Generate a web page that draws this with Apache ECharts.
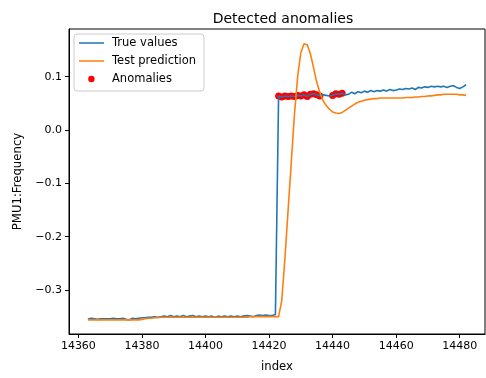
<!DOCTYPE html>
<html>
<head>
<meta charset="utf-8">
<script src="https://cdn.jsdelivr.net/npm/echarts@6/dist/echarts.min.js"></script>
<style>
html,body{margin:0;padding:0;background:#fff;}
#chart{width:486px;height:378px;}
</style>
</head>
<body>
<div id="chart"></div>
<script>
// ---- data ----
const indexValues = [
14363,14364,14365,14366,14367,14368,14369,14370,14371,14372,14373,14374,14375,14376,14377,14378,14379,14380,
14381,14382,14383,14384,14385,14386,14387,14388,14389,14390,14391,14392,14393,14394,14395,14396,14397,14398,
14399,14400,14401,14402,14403,14404,14405,14406,14407,14408,14409,14410,14411,14412,14413,14414,14415,14416,
14417,14418,14419,14420,14421,14422,14423,14424,14425,14426,14427,14428,14429,14430,14431,14432,14433,14434,
14435,14436,14437,14438,14439,14440,14441,14442,14443,14444,14445,14446,14447,14448,14449,14450,14451,14452,
14453,14454,14455,14456,14457,14458,14459,14460,14461,14462,14463,14464,14465,14466,14467,14468,14469,14470,
14471,14472,14473,14474,14475,14476,14477,14478,14479,14480,14481,14482
];
const trueValues = [
-0.355,-0.353,-0.354,-0.355,-0.354,-0.354,-0.354,-0.354,-0.353,-0.354,-0.354,-0.353,-0.355,-0.356,-0.353,-0.354,-0.353,-0.352,
-0.352,-0.351,-0.351,-0.350,-0.351,-0.350,-0.349,-0.350,-0.348,-0.350,-0.349,-0.350,-0.348,-0.350,-0.349,-0.348,-0.350,-0.349,
-0.350,-0.349,-0.350,-0.349,-0.351,-0.349,-0.350,-0.349,-0.350,-0.349,-0.350,-0.349,-0.350,-0.349,-0.348,-0.349,-0.350,-0.348,
-0.347,-0.348,-0.347,-0.348,-0.348,-0.346,
0.064,0.062,0.064,0.063,0.064,0.063,0.065,0.064,0.066,0.063,0.067,0.068,
0.066,0.064,0.066,0.065,0.064,0.065,0.068,0.067,0.069,0.066,0.067,0.071,0.068,0.072,0.070,0.073,0.071,0.074,
0.072,0.074,0.073,0.075,0.073,0.076,0.074,0.075,0.077,0.076,0.078,0.077,0.079,0.076,0.080,0.079,0.081,0.080,
0.082,0.081,0.082,0.081,0.082,0.080,0.082,0.083,0.080,0.078,0.081,0.085
];
const predictedValues = [
-0.356,-0.356,-0.356,-0.356,-0.356,-0.356,-0.356,-0.356,-0.356,-0.356,-0.356,-0.356,-0.356,-0.356,-0.356,-0.356,-0.356,-0.355,
-0.354,-0.353,-0.353,-0.352,-0.352,-0.351,-0.351,-0.351,-0.351,-0.351,-0.351,-0.351,-0.351,-0.351,-0.351,-0.351,-0.351,-0.351,
-0.351,-0.351,-0.351,-0.351,-0.351,-0.351,-0.351,-0.351,-0.351,-0.351,-0.351,-0.351,-0.351,-0.351,-0.351,-0.350,-0.350,-0.350,
-0.350,-0.350,-0.350,-0.350,-0.350,-0.350,
-0.350,-0.32,-0.24,-0.15,-0.06,0.030,0.100,0.145,0.162,0.160,0.143,0.117,
0.090,0.070,0.055,0.046,0.039,0.034,0.032,0.031,0.033,0.037,0.041,0.045,0.049,0.052,0.054,0.056,0.057,0.058,
0.059,0.059,0.060,0.060,0.060,0.060,0.060,0.060,0.060,0.060,0.061,0.061,0.061,0.062,0.062,0.063,0.063,0.064,
0.064,0.065,0.066,0.066,0.067,0.067,0.067,0.067,0.067,0.066,0.066,0.065
];
const anomalyIndex = [14423,14424,14425,14426,14427,14428,14429,14430,14431,14432,14433,14434,14435,14436,14440,14441,14442,14443];
const xTicks = [14360,14380,14400,14420,14440,14460,14480];
const yTicks = [-0.3,-0.2,-0.1,0.0,0.1];

// ---- build ----
const truePairs = indexValues.map((x,i)=>[x,trueValues[i]]);
const predPairs = indexValues.map((x,i)=>[x,predictedValues[i]]);
const anomalyPairs = anomalyIndex.map(x=>[x,trueValues[indexValues.indexOf(x)]]);

const FONT = 'DejaVu Sans';
const lineIcon = 'path://M0,5.2 L25,5.2 L25,6.8 L0,6.8 Z M0,0 L0.01,0 L0,0.01 Z M28,12 L27.99,12 L28,11.99 Z';
const dotIcon = 'path://M9.2,6 A3.2,3.2 0 1,1 15.6,6 A3.2,3.2 0 1,1 9.2,6 Z M0,0 L0.01,0 L0,0.01 Z M28,12 L27.99,12 L28,11.99 Z';

const chart = echarts.init(document.getElementById('chart'), null, {renderer:'canvas'});
chart.setOption({
  animation:false,
  backgroundColor:'#ffffff',
  title:{
    text:'Detected anomalies', left:278, top:7, textAlign:'center',
    textStyle:{fontFamily:FONT, fontSize:14, fontWeight:'normal', color:'#000'}
  },
  grid:{left:69, right:1, top:29, bottom:37, show:true, borderColor:'#000', borderWidth:1, backgroundColor:'transparent', containLabel:false},
  legend:{
    orient:'vertical', left:74, top:34,
    padding:[3,8,6,5], itemGap:6, itemWidth:28, itemHeight:12,
    backgroundColor:'rgba(255,255,255,0.8)', borderColor:'#cccccc', borderWidth:1, borderRadius:3,
    textStyle:{fontFamily:FONT, fontSize:11.5, color:'#000'},
    itemStyle:{borderWidth:0},
    data:[
      {name:'True values', icon:lineIcon, itemStyle:{color:'#1f77b4', borderWidth:0}},
      {name:'Test prediction', icon:lineIcon, itemStyle:{color:'#ff7f0e', borderWidth:0}},
      {name:'Anomalies', icon:dotIcon, itemStyle:{color:'#ff0000', borderWidth:0}}
    ]
  },
  xAxis:{
    type:'value', min:14357.05, max:14487.95,
    name:'index', nameLocation:'middle', nameGap:27,
    nameTextStyle:{fontFamily:FONT, fontSize:11.7, color:'#000'},
    axisLine:{show:true, onZero:false, lineStyle:{color:'#000', width:1}},
    axisTick:{show:true, inside:false, length:4, customValues:xTicks, lineStyle:{color:'#000', width:1}},
    axisLabel:{show:true, margin:7, customValues:xTicks, fontFamily:FONT, fontSize:11, color:'#000',
      formatter:v=>String(Math.round(v))},
    splitLine:{show:false}
  },
  yAxis:{
    type:'value', min:-0.3825, max:0.1895,
    name:'PMU1:Frequency', nameLocation:'middle', nameGap:40, nameRotate:90,
    nameTextStyle:{fontFamily:FONT, fontSize:11.7, color:'#000'},
    axisLine:{show:true, onZero:false, lineStyle:{color:'#000', width:1}},
    axisTick:{show:true, inside:false, length:4, customValues:yTicks, lineStyle:{color:'#000', width:1}},
    axisLabel:{show:true, margin:7, customValues:yTicks, fontFamily:FONT, fontSize:11, color:'#000',
      formatter:v=>{const s=v.toFixed(1); return (s==='-0.0'?'0.0':s).replace('-','\u2212');}},
    splitLine:{show:false}
  },
  series:[
    {name:'True values', type:'line', data:truePairs, showSymbol:false, symbol:'none', z:3,
      lineStyle:{color:'#1f77b4', width:1.6}, itemStyle:{color:'#1f77b4'}},
    {name:'Test prediction', type:'line', data:predPairs, showSymbol:false, symbol:'none', z:3,
      lineStyle:{color:'#ff7f0e', width:1.6}, itemStyle:{color:'#ff7f0e'}},
    {name:'Anomalies', type:'scatter', data:anomalyPairs, symbol:'circle', symbolSize:7, z:2,
      itemStyle:{color:'#ff0000', opacity:1}}
  ]
});
</script>
</body>
</html>
